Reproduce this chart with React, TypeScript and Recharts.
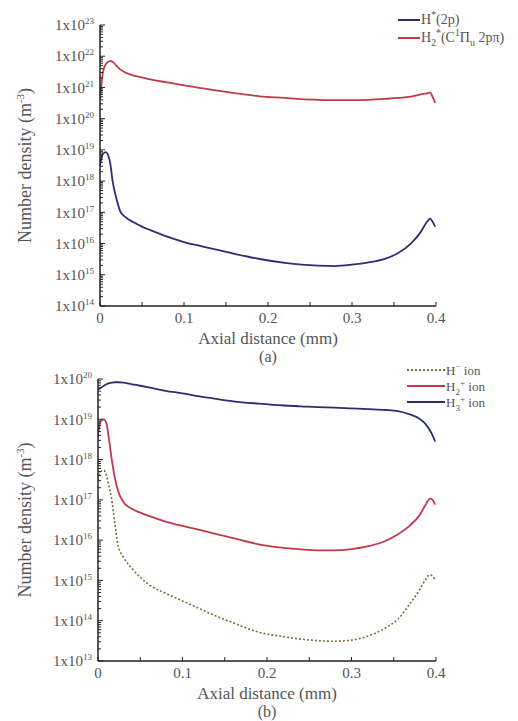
import React from 'react';
import { LineChart, Line, XAxis, YAxis, Label } from 'recharts';

const FONT = '"Liberation Serif", "Times New Roman", Times, serif';

// ---------- panel (a) ----------
const xsA = [0, 0.003, 0.007, 0.012, 0.015, 0.02, 0.024, 0.03, 0.04, 0.05, 0.06, 0.08, 0.1, 0.12, 0.14, 0.16, 0.19, 0.22, 0.24, 0.26, 0.28, 0.3, 0.32, 0.34, 0.355, 0.37, 0.38, 0.39, 0.393, 0.396, 0.399];
const hStar2p = [3.2e18, 7.1e18, 8.5e18, 4.0e18, 1.0e18, 2.5e17, 1.1e17, 7.1e16, 4.8e16, 3.5e16, 2.7e16, 1.66e16, 1.12e16, 8.3e15, 6.3e15, 4.7e15, 3.2e15, 2.4e15, 2.1e15, 1.95e15, 1.9e15, 2.1e15, 2.5e15, 3.3e15, 5.0e15, 1.0e16, 2.0e16, 5.2e16, 6.3e16, 5.0e16, 3.5e16];
const h2StarC = [4.0e20, 2.5e21, 5.6e21, 7.1e21, 6.6e21, 4.8e21, 3.8e21, 3.0e21, 2.4e21, 2.1e21, 1.8e21, 1.45e21, 1.17e21, 9.5e20, 7.9e20, 6.6e20, 5.2e20, 4.6e20, 4.2e20, 4.0e20, 3.9e20, 3.9e20, 4.0e20, 4.3e20, 4.6e20, 5.1e20, 5.8e20, 6.6e20, 6.8e20, 5.0e20, 3.2e20];
const yMajorA = [1e14, 1e15, 1e16, 1e17, 1e18, 1e19, 1e20, 1e21, 1e22, 1e23];

// ---------- panel (b) ----------
const xsB = [0, 0.003, 0.007, 0.01, 0.013, 0.016, 0.02, 0.024, 0.03, 0.04, 0.05, 0.06, 0.08, 0.1, 0.12, 0.14, 0.16, 0.19, 0.22, 0.24, 0.26, 0.28, 0.3, 0.32, 0.34, 0.355, 0.37, 0.38, 0.387, 0.393, 0.396, 0.399];
const hMinusIon = [3.2e17, 5.0e17, 5.4e17, 4.0e17, 2.2e17, 1.1e17, 2.5e16, 7.1e15, 3.8e15, 2.0e15, 1.2e15, 7.9e14, 4.8e14, 3.1e14, 2.0e14, 1.3e14, 8.9e13, 5.2e13, 4.0e13, 3.5e13, 3.2e13, 3.1e13, 3.3e13, 4.2e13, 6.6e13, 1.1e14, 2.8e14, 5.6e14, 1.0e15, 1.4e15, 1.26e15, 1.05e15];
const h2Ion = [4.0e18, 8.9e18, 1.0e19, 7.9e18, 3.2e18, 1.1e18, 3.5e17, 1.6e17, 8.9e16, 6.0e16, 4.8e16, 4.0e16, 2.9e16, 2.25e16, 1.8e16, 1.42e16, 1.12e16, 7.9e15, 6.4e15, 5.9e15, 5.6e15, 5.6e15, 6.0e15, 7.1e15, 9.5e15, 1.4e16, 2.4e16, 4.0e16, 7.1e16, 1.07e17, 1.0e17, 7.6e16];
const h3Ion = [5.6e19, 6.0e19, 6.8e19, 7.4e19, 7.9e19, 8.1e19, 8.3e19, 8.3e19, 8.1e19, 7.4e19, 6.8e19, 6.2e19, 5.1e19, 4.4e19, 3.7e19, 3.2e19, 2.8e19, 2.45e19, 2.2e19, 2.1e19, 2.0e19, 1.95e19, 1.86e19, 1.78e19, 1.7e19, 1.6e19, 1.3e19, 1.05e19, 7.9e18, 5.2e18, 4.0e18, 2.8e18];
const yMajorB = [1e13, 1e14, 1e15, 1e16, 1e17, 1e18, 1e19, 1e20];

// ---------- x axis ticks ----------
const xMajorTicks = [0, 0.1, 0.2, 0.3, 0.4];
const xTickLabels = ['0', '0.1', '0.2', '0.3', '0.4'];
const xMinorTicks = [0.05, 0.15, 0.25, 0.35];

const BLUE = '#2c2e70';
const RED = '#c23a4a';
const DOT = '#7d6c32';
const AXIS = '#222';
const LABEL = '#555';

const dataA = xsA.map((x, i) => ({ x, blue: hStar2p[i], red: h2StarC[i] }));
const dataB = xsB.map((x, i) => ({ x, dot: hMinusIon[i], red: h2Ion[i], blue: h3Ion[i] }));

function buildYTicks(majors: number[]) {
  const out: number[] = [...majors];
  for (let i = 0; i < majors.length - 1; i++) {
    for (let k = 2; k <= 9; k++) out.push(majors[i] * k);
  }
  return out.sort((a, b) => a - b);
}
const xAllTicks = [...xMajorTicks, ...xMinorTicks].sort((a, b) => a - b);

function YTick(props: any) {
  const { x, y, payload, majors } = props;
  const v = payload.value;
  const major = majors.some((m: number) => Math.abs(v / m - 1) < 1e-9);
  const exp = Math.round(Math.log10(v));
  return (
    <g>
      <line x1={x} x2={x + (major ? 5 : 3)} y1={y} y2={y} stroke={AXIS} strokeWidth={1} />
      {major && (
        <text x={x - 6} y={y} dy="0.35em" textAnchor="end" fontSize={15} fill={LABEL} fontFamily={FONT}>
          1x10<tspan dy={-6} fontSize={9}>{exp}</tspan>
        </text>
      )}
    </g>
  );
}

function XTick(props: any) {
  const { x, y, payload } = props;
  const v = payload.value;
  const idx = xMajorTicks.findIndex((m) => Math.abs(m - v) < 1e-9);
  return (
    <g>
      <line x1={x} x2={x} y1={y} y2={y - 4} stroke={AXIS} strokeWidth={1} />
      {idx >= 0 && (
        <text x={x} y={y + 6} dy="0.71em" textAnchor="middle" fontSize={15} fill={LABEL} fontFamily={FONT}>
          {xTickLabels[idx]}
        </text>
      )}
    </g>
  );
}

function YTitle(props: any) {
  const vb = props.viewBox;
  const bx = vb.x + 31;
  const cy = vb.y + vb.height / 2;
  return (
    <text x={bx} y={cy} textAnchor="middle" fontSize={18} fill={LABEL} fontFamily={FONT} transform={`rotate(-90, ${bx}, ${cy})`}>
      Number density (m<tspan dy={-7} fontSize={11}>-3</tspan><tspan dy={7}>)</tspan>
    </text>
  );
}

function makeXTitle(tag: string) {
  return function XTitle(props: any) {
    const vb = props.viewBox;
    const cx = vb.x + vb.width / 2;
    const ay = vb.y;
    return (
      <g>
        <text x={cx} y={ay + 38} textAnchor="middle" fontSize={17} fill={LABEL} fontFamily={FONT}>Axial distance (mm)</text>
        <text x={cx} y={ay + 56} textAnchor="middle" fontSize={16} fill={LABEL} fontFamily={FONT}>{tag}</text>
      </g>
    );
  };
}

const supS: React.CSSProperties = { fontSize: '0.7em', verticalAlign: 'super', lineHeight: 0 };
const subS: React.CSSProperties = { fontSize: '0.7em', verticalAlign: 'sub', lineHeight: 0 };

function LegendRow({ color, dash, len, h, fs, children }: any) {
  return (
    <div style={{ display: 'flex', alignItems: 'center', height: h, whiteSpace: 'nowrap' }}>
      <svg width={len} height={6} style={{ marginRight: 1 }}>
        <line x1={0} x2={len} y1={3} y2={3} stroke={color} strokeWidth={2} strokeDasharray={dash} />
      </svg>
      <span style={{ fontFamily: FONT, fontSize: fs, lineHeight: `${fs}px`, color: LABEL }}>{children}</span>
    </div>
  );
}

function LegendA() {
  return (
    <div style={{ position: 'absolute', left: 398, top: 11 }}>
      <LegendRow color={BLUE} len={22} h={18} fs={14}>H<span style={supS}>*</span>(2p)</LegendRow>
      <LegendRow color={RED} len={22} h={18} fs={14}>
        H<span style={subS}>2</span><span style={supS}>*</span>(C<span style={supS}>1</span>Π<span style={subS}>u</span> 2pπ)
      </LegendRow>
    </div>
  );
}

function LegendB() {
  return (
    <div style={{ position: 'absolute', left: 407, top: 362 }}>
      <LegendRow color={DOT} len={38} dash="2 2" h={16} fs={13}>H<span style={supS}>−</span> ion</LegendRow>
      <LegendRow color={RED} len={38} h={16} fs={13}>H<span style={subS}>2</span><span style={supS}>+</span> ion</LegendRow>
      <LegendRow color={BLUE} len={38} h={16} fs={13}>H<span style={subS}>3</span><span style={supS}>+</span> ion</LegendRow>
    </div>
  );
}

export default function App() {
  const yTicksA = buildYTicks(yMajorA);
  const yTicksB = buildYTicks(yMajorB);
  return (
    <div style={{ position: 'absolute', left: 0, top: 0, width: 518, height: 721, background: '#fff', overflow: 'hidden' }}>
      <div style={{ position: 'absolute', left: 0, top: 0 }}>
        <LineChart width={518} height={370} data={dataA} margin={{ top: 25, right: 82, bottom: 0, left: 0 }}>
          <XAxis
            dataKey="x"
            type="number"
            domain={[0, 0.4]}
            ticks={xAllTicks}
            interval={0}
            tickSize={0}
            tickMargin={0}
            tickLine={false}
            tick={(p: any) => <XTick {...p} />}
            height={64}
            axisLine={{ stroke: AXIS, strokeWidth: 1.5 }}
            allowDataOverflow
          >
            <Label content={makeXTitle('(a)')} />
          </XAxis>
          <YAxis
            scale="log"
            domain={[1e14, 1e23]}
            ticks={yTicksA}
            interval={0}
            tickSize={0}
            tickMargin={0}
            tickLine={false}
            tick={(p: any) => <YTick {...p} majors={yMajorA} />}
            width={100}
            axisLine={{ stroke: AXIS, strokeWidth: 1.5 }}
            allowDataOverflow
          >
            <Label content={YTitle} />
          </YAxis>
          <Line type="monotone" dataKey="blue" stroke={BLUE} strokeWidth={1.8} dot={false} isAnimationActive={false} />
          <Line type="monotone" dataKey="red" stroke={RED} strokeWidth={1.8} dot={false} isAnimationActive={false} />
        </LineChart>
      </div>
      <div style={{ position: 'absolute', left: 0, top: 360 }}>
        <LineChart width={518} height={361} data={dataB} margin={{ top: 19, right: 82, bottom: 0, left: 0 }}>
          <XAxis
            dataKey="x"
            type="number"
            domain={[0, 0.4]}
            ticks={xAllTicks}
            interval={0}
            tickSize={0}
            tickMargin={0}
            tickLine={false}
            tick={(p: any) => <XTick {...p} />}
            height={60}
            axisLine={{ stroke: AXIS, strokeWidth: 1.5 }}
            allowDataOverflow
          >
            <Label content={makeXTitle('(b)')} />
          </XAxis>
          <YAxis
            scale="log"
            domain={[1e13, 1e20]}
            ticks={yTicksB}
            interval={0}
            tickSize={0}
            tickMargin={0}
            tickLine={false}
            tick={(p: any) => <YTick {...p} majors={yMajorB} />}
            width={98}
            axisLine={{ stroke: AXIS, strokeWidth: 1.5 }}
            allowDataOverflow
          >
            <Label content={YTitle} />
          </YAxis>
          <Line type="monotone" dataKey="dot" stroke={DOT} strokeWidth={1.6} strokeDasharray="2 2" dot={false} isAnimationActive={false} />
          <Line type="monotone" dataKey="red" stroke={RED} strokeWidth={1.8} dot={false} isAnimationActive={false} />
          <Line type="monotone" dataKey="blue" stroke={BLUE} strokeWidth={1.8} dot={false} isAnimationActive={false} />
        </LineChart>
      </div>
      <LegendA />
      <LegendB />
    </div>
  );
}
